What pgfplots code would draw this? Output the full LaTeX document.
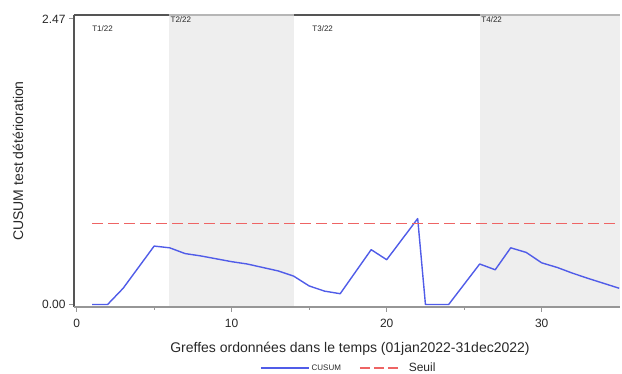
\documentclass[border=0pt]{standalone}
\usepackage{pgfplots}
\pgfplotsset{compat=1.18}
\usepackage{fontspec}
\setmainfont{Liberation Sans}

\definecolor{cusumblue}{RGB}{80,92,232}
\definecolor{thresholdred}{RGB}{238,100,100}
\definecolor{shadegray}{RGB}{238,238,238}
\definecolor{axisdark}{RGB}{85,85,85}
\definecolor{axislight}{RGB}{150,150,150}
\definecolor{textdark}{RGB}{40,40,40}

\tikzset{
  cusum line/.style={draw=cusumblue, line width=1.4pt, line join=round},
  threshold line/.style={draw=thresholdred, line width=1.8pt, dash pattern=on 11pt off 5pt},
}

\pgfplotsset{
  panel/.style={
    at={(74pt,67pt)}, anchor=south west,
    width=546pt, height=292pt, scale only axis,
    xmin=-0.17, xmax=35.05, ymin=-0.022, ymax=2.504,
    clip=false},
}

\begin{document}
\begin{tikzpicture}[x=1pt,y=1pt]
\useasboundingbox (0,0) rectangle (622,374);
\begin{axis}[
  panel,
  axis line style={draw=none},
  xtick={0,10,20,30}, xticklabels={0,10,20,30},
  minor xtick={5,15,25},
  ytick={0,2.47}, yticklabels={0.00,2.47},
  tick align=outside, tick pos=left,
  major tick length=5pt, minor tick length=3pt,
  tick style={color=axislight, line width=0.9pt},
  tick label style={font=\fontsize{12}{14}\selectfont, text=textdark},
  xticklabel style={yshift=-4pt},
  xlabel={Greffes ordonnées dans le temps (01jan2022-31dec2022)},
  xlabel style={at={(axis description cs:0.5055,-0.144)}, anchor=center,
    font=\fontsize{14}{16}\selectfont, text=textdark},
  ylabel={CUSUM test détérioration},
  ylabel style={at={(axis description cs:-0.1026,0.5)}, anchor=center,
    font=\fontsize{14}{16}\selectfont, text=textdark},
  legend columns=2,
  legend cell align=left,
  legend style={at={(axis description cs:0.3407,-0.209)}, anchor=west,
    draw=none, fill=none, inner xsep=0pt,
    font=\fontsize{12}{14}\selectfont, text=textdark,
    nodes={inner xsep=2pt},
    /tikz/every even column/.append style={column sep=16pt}},
]
% quarter bands
\fill[shadegray] (axis cs:5.94,-0.022) rectangle (axis cs:14.05,2.504);
\fill[shadegray] (axis cs:26,-0.022) rectangle (axis cs:35.05,2.504);

% CUSUM statistic
\addplot[cusum line, forget plot]
  coordinates {
  (1,0) (2,0) (3,0.14) (5,0.505) (6,0.49) (7,0.44) (8,0.42) (9,0.395)
  (10,0.37) (11,0.35) (12,0.32) (13,0.29) (14,0.245) (15,0.16) (16,0.115)
  (17,0.093) (19,0.474) (20,0.387) (22,0.743) (22.5,0) (24,0) (26,0.35)
  (27,0.30) (28,0.49) (29,0.45) (30,0.36) (31,0.32) (32,0.27) (33,0.225)
  (35,0.14)
  };

% legend entries
\addlegendimage{legend image code/.code={\draw[cusum line] (0pt,0pt) -- (48pt,0pt);}}
\addlegendentry{\fontsize{8}{9}\selectfont CUSUM}
\addlegendimage{legend image code/.code={\draw[threshold line, dash pattern=on 10pt off 4pt] (0pt,0pt) -- (38pt,0pt);}}
\addlegendentry{\hspace{8pt}Seuil}

% frame lines
\draw[axisdark, line width=1.5pt] (axis description cs:0,0) -- (axis description cs:0,1);
\draw[axislight, line width=2pt] (axis description cs:0,0) -- (axis description cs:1,0);
\draw[axisdark, line width=1.5pt] (axis description cs:0,1) -- (axis description cs:1,1);
\draw[axislight!70, line width=1.5pt] (axis cs:5.94,2.504) -- (axis cs:14.05,2.504);
\draw[axislight!70, line width=1.5pt] (axis cs:26,2.504) -- (axis cs:35.05,2.504);

% quarter labels
\node[anchor=west, inner sep=0pt, font=\fontsize{8}{9}\selectfont, text=textdark] at (axis cs:1,2.383) {T1/22};
\node[anchor=west, inner sep=0pt, font=\fontsize{8}{9}\selectfont, text=textdark] at (axis cs:6.05,2.461) {T2/22};
\node[anchor=west, inner sep=0pt, font=\fontsize{8}{9}\selectfont, text=textdark] at (axis cs:15.2,2.383) {T3/22};
\node[anchor=west, inner sep=0pt, font=\fontsize{8}{9}\selectfont, text=textdark] at (axis cs:26.1,2.461) {T4/22};
\end{axis}

% alert threshold, on the same data frame
\begin{axis}[panel, hide axis]
\addplot[color=thresholdred, line width=1.8pt, dash pattern=on 11pt off 5pt, mark=none]
  coordinates {(1,0.70) (35,0.70)};
\end{axis}
\end{tikzpicture}
\end{document}
